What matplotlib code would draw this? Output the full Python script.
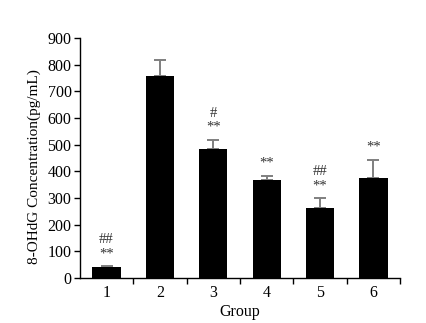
import matplotlib.pyplot as plt
import numpy as np

groups = ["1", "2", "3", "4", "5", "6"]
means = [42, 757, 486, 367, 263, 377]
errors = [3, 62, 33, 16, 37, 66]
marks_lower = ["**", "", "**", "**", "**", "**"]
marks_upper = ["##", "", "#", "", "##", ""]

plt.rcParams["font.family"] = ["Liberation Serif", "DejaVu Serif"]
plt.rcParams["font.size"] = 11.5

fig = plt.figure(figsize=(4.27, 3.23), dpi=100)
ax = fig.add_axes([0.187, 0.139, 0.75, 0.743])

x = np.arange(len(groups))
ax.bar(x, means, width=0.53, color="black", zorder=2)
ax.errorbar(x, means, yerr=[np.zeros(len(errors)), errors], fmt="none",
            ecolor="#7f7f7f", elinewidth=1.4, capsize=4, capthick=1.4, zorder=1)

for xi, m, e, lo, hi in zip(x, means, errors, marks_lower, marks_upper):
    top = m + e
    if lo:
        ax.annotate(lo, (xi, top), xytext=(0, 9), textcoords="offset points",
                    ha="center", va="center", color="#333333", fontsize=10.5)
    if hi:
        ax.annotate(hi, (xi, top), xytext=(0, 19), textcoords="offset points",
                    ha="center", va="center", color="#333333", fontsize=10.5)

ax.set_xlim(-0.5, len(groups) - 0.5)
ax.set_ylim(0, 900)
ax.set_yticks(range(0, 901, 100))

# group labels in the middle, tick marks between the bars
ax.set_xticks(x + 0.5)
ax.set_xticklabels([])
ax.set_xticks(x, minor=True)
ax.set_xticklabels(groups, minor=True)
ax.tick_params(axis="x", which="minor", length=0, pad=5)
ax.tick_params(axis="x", which="major", length=4, direction="out", width=1)
ax.tick_params(axis="y", length=4, direction="out", width=1, pad=2)

for side in ["top", "right"]:
    ax.spines[side].set_visible(False)
for side in ["left", "bottom"]:
    ax.spines[side].set_linewidth(1)

ax.set_xlabel("Group", labelpad=2)
ax.set_ylabel("8-OHdG Concentration(pg/mL)", fontsize=11)
ax.yaxis.set_label_coords(-0.12, 0.465)

fig.savefig("out.png", dpi=100)
